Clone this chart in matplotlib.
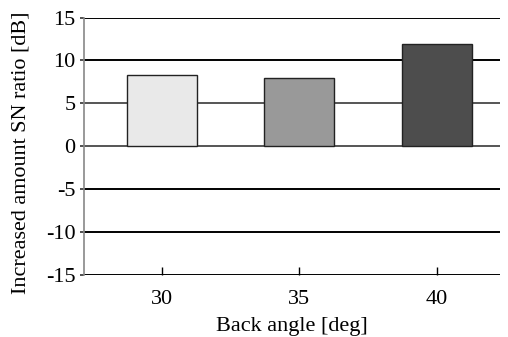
import numpy as np
import matplotlib.pyplot as plt

plt.rcParams['font.family'] = ['Liberation Serif', 'DejaVu Serif']

angles = ['30', '35', '40']
sn_gain = [8.25, 7.9, 11.9]
bar_colors = ['#e9e9e9', '#999999', '#4d4d4d']
yticks = [-15, -10, -5, 0, 5, 10, 15]

fig = plt.figure(figsize=(5.08, 3.37), dpi=100)
ax = fig.add_axes([0.165, 0.185, 0.819, 0.763])

x = np.arange(len(angles))
for yv in yticks:
    col = '#555555' if yv in (0, 5) else 'black'
    ax.axhline(yv, color=col, lw=1.4, zorder=1)
ax.bar(x, sn_gain, width=0.51, color=bar_colors, edgecolor='#222222', linewidth=1.0, zorder=2)

ax.set_xlim(-0.567, 2.46)
ax.set_ylim(-15, 15)
ax.set_yticks(yticks)
ax.set_yticklabels([str(v) for v in yticks])
ax.set_xticks(x)
ax.set_xticklabels(angles)
ax.tick_params(axis='y', length=3, width=1.2, color='#333333', labelsize=16, pad=3)
ax.tick_params(axis='x', direction='in', length=6, width=1, labelsize=16, pad=11)

for s in ['top', 'right', 'bottom']:
    ax.spines[s].set_visible(False)
ax.spines['left'].set_color('#888888')
ax.spines['left'].set_linewidth(1.2)

ax.set_xlabel('Back angle [deg]', fontsize=16, labelpad=6)
ax.set_ylabel('Increased amount SN ratio [dB]', fontsize=15.9)
ax.yaxis.set_label_coords(-0.128, 0.475)

fig.savefig('out.png', dpi=100)
